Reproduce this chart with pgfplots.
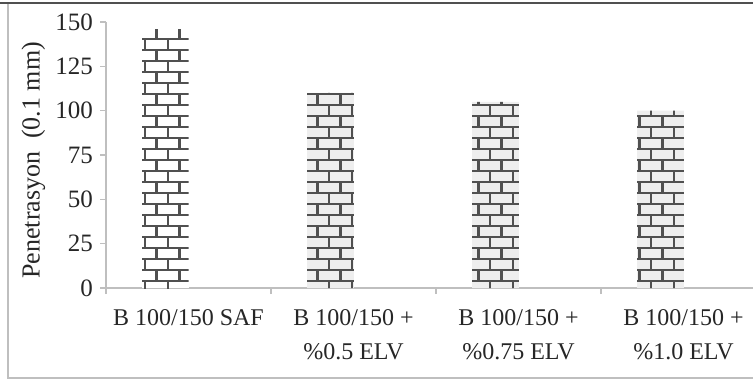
\documentclass[border=0pt]{standalone}
\usepackage{fontspec}
\setmainfont{Liberation Serif}
\usepackage{pgfplots}
\pgfplotsset{compat=1.18}
\usetikzlibrary{patterns.meta}
\definecolor{brick}{HTML}{505050}
\definecolor{axgray}{HTML}{BFBFBF}
\definecolor{txt}{HTML}{262626}
\definecolor{barfill}{HTML}{EEEEEE}
\tikzdeclarepattern{
  name=mybricks,
  type=uncolored,
  bottom left={(-.6pt,-.6pt)},
  top right={(12.1pt,11.6pt)},
  tile size={(11.5pt,11pt)},
  code={
    \pgfsetlinewidth{1.1pt}
    \pgfpathmoveto{\pgfqpoint{-.6pt}{0pt}}\pgfpathlineto{\pgfqpoint{12.1pt}{0pt}}
    \pgfpathmoveto{\pgfqpoint{-.6pt}{5.5pt}}\pgfpathlineto{\pgfqpoint{12.1pt}{5.5pt}}
    \pgfpathmoveto{\pgfqpoint{3.5pt}{0pt}}\pgfpathlineto{\pgfqpoint{3.5pt}{5.5pt}}
    \pgfpathmoveto{\pgfqpoint{9.25pt}{5.5pt}}\pgfpathlineto{\pgfqpoint{9.25pt}{11pt}}
    \pgfusepath{stroke}
  }
}
\begin{document}
\begin{tikzpicture}
\clip (0,0) rectangle (376.5pt,190pt);
\useasboundingbox (0,0) rectangle (376.5pt,190pt);
% outer frame
\draw[axgray, line width=0.8pt] (4pt,188.5pt) -- (4pt,1pt) -- (380pt,1pt);
\draw[brick, line width=1.2pt] (0pt,188.5pt) -- (380pt,188.5pt);
\begin{axis}[
  at={(53pt,46pt)}, anchor=south west,
  scale only axis, width=330pt, height=133pt,
  xmin=-0.5, xmax=3.5, ymin=0, ymax=150,
  axis lines*=left,
  axis line style={axgray, line width=0.6pt},
  xtick={0,1,2,3},
  xticklabels={B 100/150 SAF, B 100/150 +\\\%0.5 ELV, B 100/150 +\\\%0.75 ELV, B 100/150 +\\\%1.0 ELV},
  major x tick style={draw=none},
  minor xtick={-0.5,0.5,1.5,2.5},
  minor x tick style={axgray, line width=0.6pt},
  minor tick length=3pt,
  ytick={0,25,50,75,100,125,150},
  y tick style={axgray, line width=0.6pt},
  major tick length=3pt,
  tick align=outside,
  /pgf/number format/assume math mode=true,
  xticklabel style={font=\fontsize{12}{17}\selectfont, text=txt, align=center, anchor=north, yshift=-4pt},
  yticklabel style={font=\fontsize{12.5}{15}\selectfont, text=txt, xshift=0pt},
  ylabel={Penetrasyon\ \ (0.1 mm)},
  ylabel style={at={(axis description cs:-0.11,0.48)}, anchor=center, font=\fontsize{13}{15}\selectfont, text=txt},
  ybar, bar width=0.283, bar shift=-0.14,
]
\addplot[draw=none, fill=white, postaction={pattern=mybricks, pattern color=brick}] coordinates {(0,146)};
\addplot[draw=none, fill=barfill, postaction={pattern=mybricks, pattern color=brick}] coordinates {(1,110) (2,105) (3,100)};
\end{axis}
\end{tikzpicture}
\end{document}
